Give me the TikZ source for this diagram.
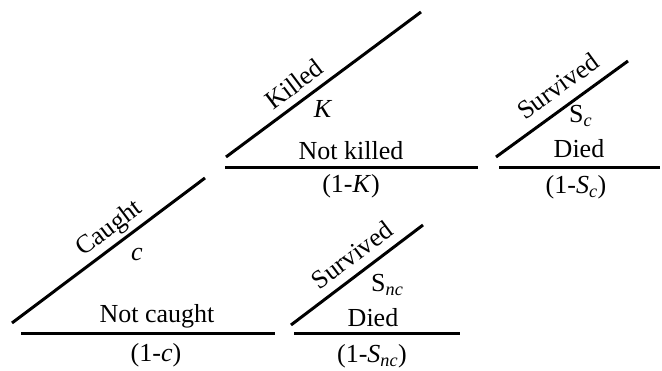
\documentclass[tikz,border=0pt]{standalone}
\usepackage{fontspec}
\setmainfont{Liberation Serif}
\usetikzlibrary{calc}

\begin{document}
\begin{tikzpicture}[x=1pt, y=1pt, branch/.style={line width=3pt}, every node/.style={font=\fontsize{26}{28}\selectfont, inner sep=0pt}]
  \useasboundingbox (0,0) rectangle (662,371);
  % branch end points
  \coordinate (caughtA) at (12,48);     \coordinate (caughtB) at (205,193);
  \coordinate (notcaughtA) at (21,37);  \coordinate (notcaughtB) at (275,37);
  \coordinate (killedA) at (226,214);   \coordinate (killedB) at (421,359);
  \coordinate (notkilledA) at (225,203); \coordinate (notkilledB) at (478,203);
  \coordinate (survcA) at (496,214);    \coordinate (survcB) at (628,310);
  \coordinate (diedcA) at (499,203);    \coordinate (diedcB) at (660,203);
  \coordinate (survncA) at (291,46);    \coordinate (survncB) at (423,146);
  \coordinate (diedncA) at (294,37);    \coordinate (diedncB) at (460,37);
  % branches
  \draw[branch] (caughtA) -- (caughtB);
  \draw[branch] (notcaughtA) -- (notcaughtB);
  \draw[branch] (killedA) -- (killedB);
  \draw[branch] (notkilledA) -- (notkilledB);
  \draw[branch] (survcA) -- (survcB);
  \draw[branch] (diedcA) -- (diedcB);
  \draw[branch] (survncA) -- (survncB);
  \draw[branch] (diedncA) -- (diedncB);
  % labels
  \node[rotate=37] (caught) at (110,142) {Caught};
  \node[anchor=base] (pc) at (137,110) {\textit{c}};
  \node[anchor=base] (notcaught) at (157,48) {Not caught};
  \node[anchor=base] (qc) at (156,9) {(1-\textit{c})};
  \node[rotate=37] (killed) at (294,287) {Killed};
  \node[anchor=base] (pk) at (323,253) {\textit{K}};
  \node[anchor=base] (notkilled) at (351,211) {Not killed};
  \node[anchor=base] (qk) at (351,178) {(1-\textit{K})};
  \node[rotate=36] (survc) at (558,285) {Survived};
  \node[anchor=base west] (psc) at (569,248) {S\textsubscript{\textit{c}}};
  \node[anchor=base] (diedc) at (579,213) {Died};
  \node[anchor=base] (qsc) at (576,177) {(1-\textit{S\textsubscript{c}})};
  \node[rotate=37] (survnc) at (352,116) {Survived};
  \node[anchor=base west] (psnc) at (371,79) {S\textsubscript{\textit{nc}}};
  \node[anchor=base] (diednc) at (373,44) {Died};
  \node[anchor=base] (qsnc) at (372,8) {(1-\textit{S\textsubscript{nc}})};
\end{tikzpicture}
\end{document}
